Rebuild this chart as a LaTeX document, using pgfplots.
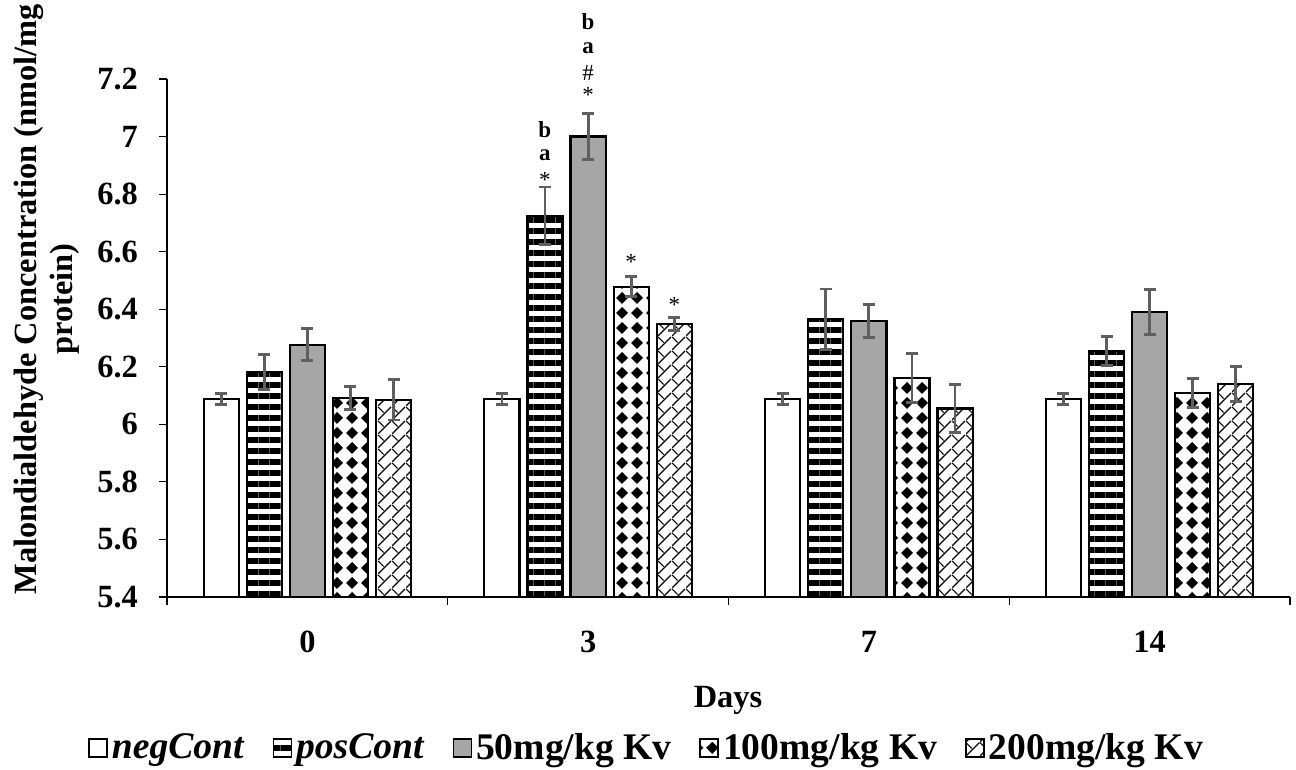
\documentclass[border=0pt]{standalone}
\usepackage{fontspec}
\setmainfont{Liberation Serif}
\usepackage{pgfplots}
\usepackage{pgfplotstable}
\pgfplotsset{compat=1.18}
\usetikzlibrary{patterns,patterns.meta}

\definecolor{errgray}{HTML}{5F5F5F}
\definecolor{barGray}{HTML}{A6A6A6}

\pgfdeclarepattern{name=mydiamonds, type=uncolored,
  bottom left={\pgfpoint{0pt}{0pt}}, top right={\pgfpoint{7.5pt}{7.5pt}},
  tile size={\pgfpoint{7.5pt}{7.5pt}},
  code={\pgfpathmoveto{\pgfpoint{3.75pt}{0.6pt}}\pgfpathlineto{\pgfpoint{6.9pt}{3.75pt}}\pgfpathlineto{\pgfpoint{3.75pt}{6.9pt}}\pgfpathlineto{\pgfpoint{0.6pt}{3.75pt}}\pgfpathclose\pgfusepath{fill}}}

\pgfdeclarepattern{name=mycross, type=uncolored,
  bottom left={\pgfpoint{0pt}{0pt}}, top right={\pgfpoint{7pt}{7pt}},
  tile size={\pgfpoint{7pt}{7pt}},
  code={\pgfsetlinewidth{0.6pt}\pgfpathmoveto{\pgfpoint{0pt}{0pt}}\pgfpathlineto{\pgfpoint{7pt}{7pt}}\pgfpathmoveto{\pgfpoint{0pt}{7pt}}\pgfpathlineto{\pgfpoint{3.0pt}{4.0pt}}\pgfusepath{stroke}}}

\pgfplotstableread{
x y e
0 6.088 0.020
1 6.088 0.020
2 6.088 0.020
3 6.088 0.020
}\negC
\pgfplotstableread{
x y e
0 6.182 0.060
1 6.725 0.100
2 6.365 0.105
3 6.255 0.050
}\posC
\pgfplotstableread{
x y e
0 6.277 0.055
1 7.000 0.080
2 6.360 0.057
3 6.390 0.078
}\kvA
\pgfplotstableread{
x y e
0 6.092 0.040
1 6.478 0.035
2 6.160 0.085
3 6.108 0.050
}\kvB
\pgfplotstableread{
x y e
0 6.085 0.070
1 6.348 0.022
2 6.055 0.083
3 6.140 0.060
}\kvC

\newcommand{\bigf}{\fontsize{16.2}{18}\selectfont\bfseries}
\newcommand{\legf}{\fontsize{18.8}{20}\selectfont\bfseries}
\newcommand{\annf}{\fontsize{11.5}{12}\selectfont}

\begin{document}
\begin{tikzpicture}
\begin{axis}[
  scale only axis, width=561.5pt, height=259pt,
  ymin=5.4, ymax=7.2,
  ytick={5.4,5.6,5.8,6,6.2,6.4,6.6,6.8,7,7.2},
  yticklabels={5.4,5.6,5.8,6,6.2,6.4,6.6,6.8,7,7.2},
  yticklabel style={xshift=-7pt},
  xmin=-0.5, xmax=3.5,
  xtick={-0.5,0.5,1.5,2.5,3.5}, xticklabels={},
  extra x ticks={0,1,2,3}, extra x tick labels={0,3,7,14},
  extra x tick style={major tick length=0pt, xticklabel style={yshift=-13.5pt}},
  axis x line=bottom, axis y line=left,
  axis line style={-, line width=0.6pt, black},
  tick style={line width=0.6pt, black},
  tick align=outside, major tick length=4pt,
  tick label style={font=\bigf},
  ybar, bar width=0.125,
  clip=false,
  every axis plot/.append style={draw=black, line width=1.1pt},
  error bars/y dir=both, error bars/y explicit,
  error bars/error bar style={line width=1.4pt, color=errgray},
  error bars/error mark options={rotate=90, mark size=3pt, line width=1.4pt, color=errgray},
  ylabel={Malondialdehyde Concentration (nmol/mg\\protein)},
  ylabel style={align=center, font=\bigf, at={(axis description cs:-0.107,0.575)}, anchor=center},
  xlabel={Days},
  xlabel style={font=\bigf, at={(axis description cs:0.4996,-0.199)}, anchor=center},
  legend style={at={(axis description cs:0.428,-0.2915)}, anchor=center, draw=none,
    legend columns=5, font=\legf,
    /tikz/every even column/.append style={column sep=12pt}},
  legend image code/.code={\draw[#1, line width=0.8pt] (0pt,-4.5pt) rectangle (9pt,4.5pt);},
]
\addplot[fill=white, bar shift=-0.307] table[x=x,y=y,y error=e]{\negC};
\addplot[pattern={Lines[angle=0,distance=5.5pt,line width=3.3pt]}, bar shift=-0.1536] table[x=x,y=y,y error=e]{\posC};
\addplot[fill=barGray, bar shift=0] table[x=x,y=y,y error=e]{\kvA};
\addplot[fill=white, postaction={pattern=mydiamonds}, bar shift=0.1536] table[x=x,y=y,y error=e]{\kvB};
\addplot[fill=white, postaction={pattern=mycross}, bar shift=0.307] table[x=x,y=y,y error=e]{\kvC};
\legend{\textit{negCont},\textit{posCont},50mg/kg Kv,100mg/kg Kv,200mg/kg Kv}

\node[font=\annf\bfseries] at (axis cs:0.846,7.023) {b};
\node[font=\annf\bfseries] at (axis cs:0.846,6.936) {a};
\node[font=\annf] at (axis cs:0.846,6.849) {*};
\node[font=\annf\bfseries] at (axis cs:1,7.398) {b};
\node[font=\annf\bfseries] at (axis cs:1,7.308) {a};
\node[font=\annf] at (axis cs:1,7.221) {\#};
\node[font=\annf] at (axis cs:1,7.144) {*};
\node[font=\annf] at (axis cs:1.1536,6.564) {*};
\node[font=\annf] at (axis cs:1.307,6.415) {*};
\end{axis}
\pgfresetboundingbox
\path[use as bounding box] ([shift={(-83.5pt,-86.5pt)}]current axis.south west) rectangle ([shift={(3pt,39.5pt)}]current axis.north east);
\end{tikzpicture}
\end{document}
